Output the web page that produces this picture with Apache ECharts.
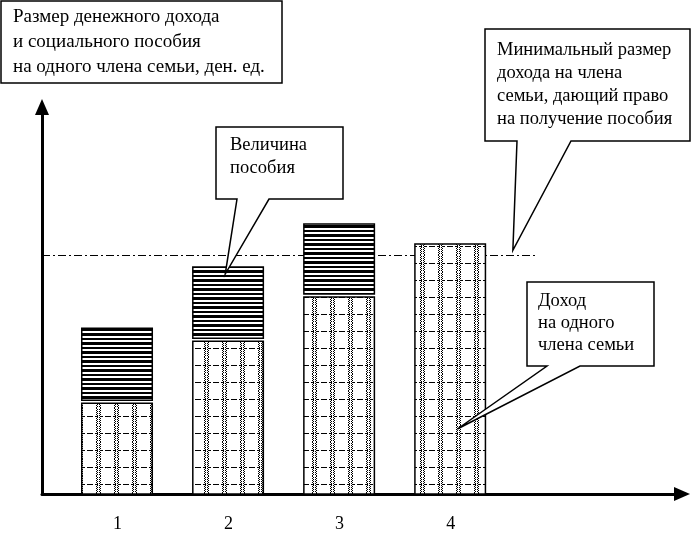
<!DOCTYPE html>
<html><head><meta charset="utf-8">
<script src="https://cdn.jsdelivr.net/npm/echarts@6/dist/echarts.min.js"></script>
<style>html,body{margin:0;padding:0;background:#fff}#c{width:691px;height:533px}</style>
</head><body><div id="c"></div>
<script>
// ---- data ----
const categories = ['1', '2', '3', '4'];
const income = [23.0, 38.7, 49.9, 63.3];      // доход на одного члена семьи
const benefit = [19.0, 18.8, 18.5, 0];        // величина пособия
const threshold = 60.5;                        // минимальный размер дохода
const yMax = 98;
const xMin = -0.68, xMax = 5.083;
const thresholdEnd = 3.76;

const noteAxis = ['Размер денежного дохода', 'и социального пособия', 'на одного члена семьи, ден. ед.'];
const noteMin = ['Минимальный размер', 'дохода на члена', 'семьи, дающий право', 'на получение пособия'];
const noteBen = ['Величина', 'пособия'];
const noteInc = ['Доход', 'на одного', 'члена семьи'];

// ---- patterns ----
function incomePattern() {
  const c = document.createElement('canvas'); c.width = 18; c.height = 17;
  const g = c.getContext('2d');
  g.fillStyle = '#fff'; g.fillRect(0, 0, 18, 17); g.fillStyle = '#000';
  [6, 7, 9, 10].forEach(x => { for (let y = 0; y < 17; y++) if ((x + y) % 2 === 0) g.fillRect(x, y, 1, 1); });
  for (let x = 0; x < 18; x += 5) g.fillRect(x, 8, 3, 1);
  return { image: c, repeat: 'repeat' };
}
function benefitPattern() {
  const c = document.createElement('canvas'); c.width = 4; c.height = 9;
  const g = c.getContext('2d');
  g.fillStyle = '#fff'; g.fillRect(0, 0, 4, 9); g.fillStyle = '#000';
  g.fillRect(0, 0, 4, 3); g.fillRect(0, 5, 4, 2);
  return { image: c, repeat: 'repeat' };
}
const patInc = incomePattern(), patBen = benefitPattern();

const incomeRows = income.map((v, i) => [i, 0, v]);
const benefitRows = benefit.map((v, i) => [i, income[i], income[i] + v]).filter(r => r[2] > r[1]);

function makeRender(fill, gap) {
  return function (params, api) {
    const x = api.value(0), b = api.value(1), t = api.value(2);
    const p0 = api.coord([x, b]), p1 = api.coord([x, t]);
    const w = api.size([1, 0])[0] * 0.635;
    const yb = p0[1] - gap;
    return {
      type: 'rect',
      shape: { x: p0[0] - w / 2 - 0.5, y: p1[1], width: w, height: yb - p1[1] },
      style: { fill: fill, stroke: '#000', lineWidth: 1.5 }
    };
  };
}

const chart = echarts.init(document.getElementById('c'), null, { renderer: 'canvas' });
const FONT = 'Liberation Serif';
chart.setOption({
  animation: false,
  backgroundColor: '#fff',
  grid: { left: 42, right: 9, top: 107, bottom: 39 },
  xAxis: {
    type: 'value', min: xMin, max: xMax,
    axisLine: { show: true, onZero: false, lineStyle: { color: '#000', width: 3 }, symbol: ['none', 'triangle'], symbolSize: [14, 16] },
    axisTick: { show: false },
    splitLine: { show: false },
    axisLabel: {
      customValues: [0, 1, 2, 3],
      formatter: v => categories[Math.round(v)],
      color: '#000', fontFamily: FONT, fontSize: 18, margin: 21
    }
  },
  yAxis: {
    type: 'value', min: 0, max: yMax,
    axisLine: { show: true, onZero: false, lineStyle: { color: '#000', width: 3 }, symbol: ['none', 'triangle'], symbolSize: [14, 16] },
    axisTick: { show: false }, axisLabel: { show: false }, splitLine: { show: false }
  },
  series: [
    {
      type: 'line', data: [], z: 1,
      markLine: {
        silent: true, symbol: 'none', label: { show: false }, z: 1,
        lineStyle: { color: '#000', width: 1, type: [8, 3, 2, 3] },
        data: [[{ coord: [xMin, threshold] }, { coord: [thresholdEnd, threshold] }]]
      }
    },
    { type: 'custom', name: 'Доход', data: incomeRows, renderItem: makeRender(patInc, 0), encode: { x: 0, y: [1, 2] }, z: 6 },
    { type: 'custom', name: 'Пособие', data: benefitRows, renderItem: makeRender(patBen, 3), encode: { x: 0, y: [1, 2] }, z: 6 }
  ]
});

function px(x, y) { return chart.convertToPixel({ gridIndex: 0 }, [x, y]); }
function callout(box, base1, base2, tip) {
  const [l, t, r, b] = box;
  return { type: 'polygon', z: 10, shape: { points: [[l, t], [r, t], [r, b], [base2, b], tip, [base1, b], [l, b]] },
           style: { fill: '#fff', stroke: '#000', lineWidth: 1.5 } };
}
function textBlock(lines, x, y, lh, fs) {
  return { type: 'text', z: 11, style: { text: lines.join('\n'), x: x, y: y, fill: '#000', font: fs + 'px "' + FONT + '"', lineHeight: lh, verticalAlign: 'top' } };
}

const tipBen = px(1 - 0.03, income[1] + benefit[1] - 1.8);
const tipMin = px(3.56, threshold + 1.2);
const tipInc = px(3.06, income[3] * 0.26);

chart.setOption({
  graphic: [
    { type: 'rect', z: 10, shape: { x: 1, y: 1, width: 281, height: 82 }, style: { fill: '#fff', stroke: '#000', lineWidth: 1.5 } },
    textBlock(noteAxis, 13, 5, 25, 19),
    callout([485, 29, 690, 141], 517, 571, tipMin),
    textBlock(noteMin, 497, 39, 23, 18.5),
    callout([216, 127, 343, 199], 237, 269, tipBen),
    textBlock(noteBen, 230, 134, 23, 18.5),
    callout([527, 282, 654, 366], 547, 580, tipInc),
    textBlock(noteInc, 538, 290, 22, 18.5)
  ]
});
</script></body></html>
